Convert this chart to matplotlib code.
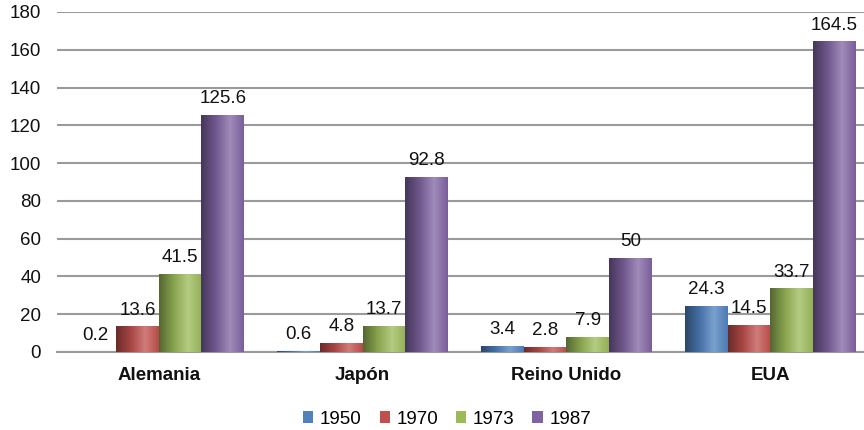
import numpy as np
import matplotlib
matplotlib.use("Agg")
import matplotlib.pyplot as plt
from matplotlib.colors import to_rgb
from matplotlib.patches import Patch

plt.rcParams['font.family'] = ['Liberation Sans', 'DejaVu Sans']

countries = ["Alemania", "Japón", "Reino Unido", "EUA"]
years = ["1950", "1970", "1973", "1987"]
v1950 = [0.2, 0.6, 3.4, 24.3]
v1970 = [13.6, 4.8, 2.8, 14.5]
v1973 = [41.5, 13.7, 7.9, 33.7]
v1987 = [125.6, 92.8, 50, 164.5]
labels_1950 = ["0.2", "0.6", "3.4", "24.3"]
labels_1970 = ["13.6", "4.8", "2.8", "14.5"]
labels_1973 = ["41.5", "13.7", "7.9", "33.7"]
labels_1987 = ["125.6", "92.8", "50", "164.5"]
yticks = [0, 20, 40, 60, 80, 100, 120, 140, 160, 180]

series = [v1950, v1970, v1973, v1987]
series_labels = [labels_1950, labels_1970, labels_1973, labels_1987]
colors = ["#4F81BD", "#C0504D", "#9BBB59", "#8064A2"]

FS = 13.5

fig = plt.figure(figsize=(8.64, 4.30), dpi=100)
ax = fig.add_axes([57 / 864, (430 - 352) / 430, 815 / 864, 340 / 430])


def gradient_image(color):
    base = np.array(to_rgb(color))
    white = np.ones(3)
    stops = [0.0, 0.35, 0.68, 1.0]
    cols = [base * 0.55,
            base * 0.88,
            np.clip(base + (white - base) * 0.25, 0, 1),
            base * 0.95]
    xs = np.linspace(0, 1, 64)
    img = np.zeros((1, 64, 3))
    for c in range(3):
        img[0, :, c] = np.interp(xs, stops, [col[c] for col in cols])
    return img


x = np.arange(len(countries))
w = 0.209
offsets = [-1.5 * w, -0.5 * w, 0.5 * w, 1.5 * w]

for vals, labs, col, off in zip(series, series_labels, colors, offsets):
    bars = ax.bar(x + off, vals, width=w, color=col, edgecolor='none', zorder=3)
    img = gradient_image(col)
    for b, v, lab in zip(bars, vals, labs):
        x0 = b.get_x()
        im = ax.imshow(img, extent=(x0, x0 + b.get_width(), 0, v),
                       aspect='auto', zorder=3.5, interpolation='bilinear')
        im.set_clip_path(b)
        ax.annotate(lab, (x0 + b.get_width() / 2, v), xytext=(0, 5.5),
                    textcoords='offset points', ha='center', va='bottom',
                    fontsize=FS, color='#111111', zorder=5)

ax.set_xlim(-0.5, 3.5)
ax.set_ylim(0, 180)
ax.set_yticks(yticks)
ax.set_yticklabels([str(t) for t in yticks])
ax.set_xticks(x)
ax.set_xticklabels(countries, fontweight='bold')
ax.tick_params(axis='y', length=0, pad=11.5, labelsize=FS, labelcolor='#111111')
ax.tick_params(axis='x', length=0, pad=11, labelsize=FS, labelcolor='#111111')

ax.grid(axis='y', color='#9a9a9a', linewidth=1.5, zorder=1)
ax.set_axisbelow(True)
for s in ['left', 'right', 'top']:
    ax.spines[s].set_visible(False)
ax.spines['bottom'].set_color('#9a9a9a')
ax.spines['bottom'].set_linewidth(1.5)

handles = [Patch(facecolor=c, edgecolor='none', label=y) for c, y in zip(colors, years)]
fig.legend(handles=handles, loc='center', bbox_to_anchor=(447 / 864, 1 - 419 / 430),
           ncol=4, frameon=False, fontsize=FS, handlelength=0.55, handleheight=0.55,
           handletextpad=0.35, columnspacing=0.95)

fig.savefig("out.png", dpi=100)
